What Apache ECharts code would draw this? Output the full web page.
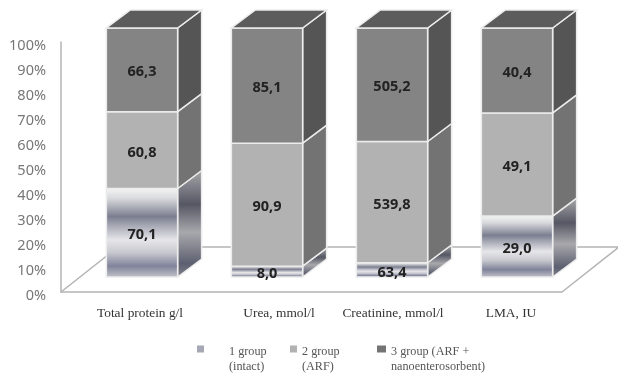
<!DOCTYPE html>
<html style="height: 100%">
<head>
    <meta charset="UTF-8">
    <script src="https://cdn.jsdelivr.net/npm/echarts@6/dist/echarts.min.js"></script>
    <style type="text/css">
        html, body { margin: 0; padding: 0; background: #ffffff; }
    </style>
</head>
<body>
    <div id="paint" style="width: 618px; height: 376px;"></div>
<script>
    var categories = ['Total protein g/l', 'Urea, mmol/l', 'Creatinine, mmol/l', 'LMA, IU'];
    var groupNames = ['1 group\n(intact)', '2 group\n(ARF)', '3 group (ARF +\nnanoenterosorbent)'];
    var group1 = [70.1, 8.0, 63.4, 29.0];
    var group2 = [60.8, 90.9, 539.8, 49.1];
    var group3 = [66.3, 85.1, 505.2, 40.4];
    var yTicks = [0, 100, 10];

    var groups = [group1, group2, group3];

    // 3d look of the columns
    var DEPTH_X = 24, DEPTH_Y = 18;
    var FLOOR_X = 57, FLOOR_Y = 45;
    var EDGE = '#ececec';

    function vgrad(stops) {
        return {
            type: 'linear', x: 0, y: 0, x2: 0, y2: 1,
            colorStops: stops.map(function (s) { return {offset: s[0], color: s[1]}; })
        };
    }

    var frontFill = [
        vgrad([[0, '#f6f6f6'], [0.12, '#d8d9dc'], [0.32, '#7b7e90'], [0.42, '#a6a8b4'], [0.58, '#e6e6ea'], [0.72, '#c8c9cf'], [0.87, '#80839a'], [1, '#c4c5cc']]),
        '#b2b2b2',
        '#848484'
    ];
    var sideFill = [
        vgrad([[0, '#a8a8aa'], [0.32, '#555764'], [0.58, '#a8a8ac'], [0.87, '#5c5f70'], [1, '#84848c']]),
        '#737373',
        '#555555'
    ];
    var topFill = '#5c5c5c';
    var legendFill = ['#a6a8b6', '#b2b2b2', '#747474'];

    function cumulative(groupIndex, catIndex) {
        var total = 0, below = 0;
        groups.forEach(function (g, i) {
            total += g[catIndex];
            if (i < groupIndex) below += g[catIndex];
        });
        return [below / total * 100, (below + groups[groupIndex][catIndex]) / total * 100];
    }

    function seriesData(groupIndex) {
        return categories.map(function (c, i) {
            var r = cumulative(groupIndex, i);
            return [i, r[0], r[1], groups[groupIndex][i]];
        });
    }

    function renderColumn(groupIndex) {
        return function (params, api) {
            var bottom = api.coord([api.value(0), api.value(1)]);
            var top = api.coord([api.value(0), api.value(2)]);
            var w = api.size([1, 0])[0] * 0.57;
            var x0 = bottom[0] - w / 2, x1 = bottom[0] + w / 2;
            var line = {stroke: EDGE, lineWidth: 1.5};
            var children = [{
                type: 'polygon',
                shape: {points: [[x1, bottom[1]], [x1 + DEPTH_X, bottom[1] - DEPTH_Y], [x1 + DEPTH_X, top[1] - DEPTH_Y], [x1, top[1]]]},
                style: Object.assign({fill: sideFill[groupIndex]}, line)
            }, {
                type: 'rect',
                shape: {x: x0, y: top[1], width: w, height: bottom[1] - top[1]},
                style: Object.assign({fill: frontFill[groupIndex]}, line)
            }];
            if (groupIndex === groups.length - 1) {
                children.push({
                    type: 'polygon',
                    shape: {points: [[x0, top[1]], [x1, top[1]], [x1 + DEPTH_X, top[1] - DEPTH_Y], [x0 + DEPTH_X, top[1] - DEPTH_Y]]},
                    style: Object.assign({fill: topFill}, line)
                });
            }
            children.push({
                type: 'text',
                style: {
                    text: api.value(3).toFixed(1).replace('.', ','),
                    x: bottom[0], y: (top[1] + bottom[1]) / 2 + 2.5,
                    align: 'center', verticalAlign: 'middle',
                    fill: '#222222',
                    font: 'bold 14.5px "Noto Sans"'
                }
            });
            return {type: 'group', children: children};
        };
    }

    function renderFloor(params) {
        var c = params.coordSys;
        var yFront = c.y + c.height;
        var style = {stroke: '#b4b4b4', lineWidth: 1.5, fill: 'none'};
        return {
            type: 'polyline',
            shape: {points: [
                [c.x, yFront],
                [c.x + FLOOR_X, yFront - FLOOR_Y],
                [c.x + c.width + FLOOR_X, yFront - FLOOR_Y],
                [c.x + c.width, yFront]
            ]},
            style: style
        };
    }

    // x labels are not centred under the columns in the original
    var labelShift = [-2, 12, 1, -6];
    var xData = categories.map(function (c, i) {
        var s = labelShift[i];
        return {
            value: c,
            textStyle: {padding: s >= 0 ? [0, 0, 0, 2 * s] : [0, -2 * s, 0, 0]}
        };
    });

    var legendLeft = [197, 290, 377];
    var legendText = [20, 0, 0];
    var legends = groupNames.map(function (name, i) {
        return {
            left: legendLeft[i], top: 330,
            orient: 'horizontal',
            selectedMode: false,
            itemWidth: i === 2 ? 9 : 7,
            itemHeight: 7,
            padding: 0,
            data: [{name: name, icon: 'rect', itemStyle: {color: legendFill[i]}}],
            // empty first line keeps the swatch level with the first text line
            formatter: function (n) {
                return '{s| }\n' + n.split('\n').map(function (l) { return '{t|' + l + '}'; }).join('\n');
            },
            textStyle: {
                padding: [0, 0, 0, legendText[i]],
                rich: {
                    s: {fontSize: 8, lineHeight: 21},
                    t: {fontFamily: '"Liberation Serif"', fontSize: 12.2, color: '#555555', lineHeight: 15}
                }
            }
        };
    });

    var series = [{
        type: 'custom',
        name: 'floor',
        xAxisIndex: 0, yAxisIndex: 0,
        silent: true,
        z: 1,
        data: [[0, 0]],
        renderItem: renderFloor
    }];
    groups.forEach(function (g, i) {
        series.push({
            type: 'custom',
            name: groupNames[i],
            xAxisIndex: 1, yAxisIndex: 1,
            z: 2 + i,
            encode: {x: 0, y: [1, 2]},
            itemStyle: {color: legendFill[i]},
            data: seriesData(i),
            renderItem: renderColumn(i)
        });
    });

    echarts.init(document.getElementById('paint'), null, {renderer: 'canvas'}).setOption({
        backgroundColor: '#ffffff',
        animation: false,
        legend: legends,
        grid: [
            {left: 61, top: 42, width: 501, height: 250},
            {left: 79.5, top: 28, width: 500, height: 249},
            // tick labels sit a little below the wall they belong to
            {left: 61, top: 45.5, width: 501, height: 250}
        ],
        xAxis: [{
            gridIndex: 0, type: 'category', data: categories,
            axisLabel: {show: false}, axisTick: {show: false},
            axisLine: {lineStyle: {color: '#b4b4b4', width: 1.5}}
        }, {
            gridIndex: 1, type: 'category', data: xData,
            axisLine: {show: false}, axisTick: {show: false},
            axisLabel: {
                margin: 30, interval: 0,
                fontFamily: '"Liberation Serif"', fontSize: 13.4, color: '#333333'
            }
        }, {
            gridIndex: 2, type: 'category', data: categories, show: false
        }],
        yAxis: [{
            gridIndex: 0, type: 'value', min: yTicks[0], max: yTicks[1], interval: yTicks[2],
            splitLine: {show: false}, axisTick: {show: false},
            axisLine: {show: true, lineStyle: {color: '#b4b4b4', width: 1.5}},
            axisLabel: {show: false}
        }, {
            gridIndex: 1, type: 'value', min: yTicks[0], max: yTicks[1], interval: yTicks[2],
            show: false
        }, {
            gridIndex: 2, type: 'value', min: yTicks[0], max: yTicks[1], interval: yTicks[2],
            splitLine: {show: false}, axisTick: {show: false}, axisLine: {show: false},
            axisLabel: {
                formatter: '{value}%', margin: 15,
                fontFamily: '"Noto Sans"', fontSize: 14.5, color: '#777777'
            }
        }],
        series: series
    });
</script>
</body>
</html>
